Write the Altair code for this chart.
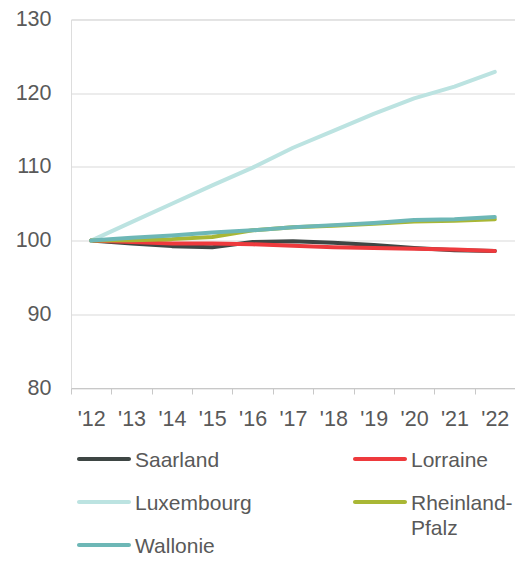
import altair as alt
import pandas as pd

years = ["'12", "'13", "'14", "'15", "'16", "'17", "'18", "'19", "'20", "'21", "'22"]
series = ["Saarland", "Lorraine", "Luxembourg", "Rheinland-Pfalz", "Wallonie"]
legend_labels = ["Saarland", "Lorraine", "Luxembourg", "Rheinland-\nPfalz", "Wallonie"]

saarland = [100, 99.6, 99.25, 99.1, 99.8, 99.9, 99.7, 99.4, 99.0, 98.7, 98.6]
lorraine = [100, 99.8, 99.6, 99.6, 99.5, 99.3, 99.1, 99.0, 98.9, 98.8, 98.6]
luxembourg = [100, 102.5, 105.0, 107.5, 109.9, 112.6, 114.9, 117.2, 119.3, 120.9, 122.9]
rheinland_pfalz = [100, 100.05, 100.2, 100.5, 101.4, 101.8, 102.0, 102.3, 102.6, 102.7, 102.9]
wallonie = [100, 100.4, 100.7, 101.1, 101.4, 101.8, 102.1, 102.4, 102.8, 102.9, 103.2]

colors = ["#3E4644", "#EE3A3D", "#BCE3E1", "#A9B735", "#6DB7B6"]
y_ticks = [80, 90, 100, 110, 120, 130]

values = [saarland, lorraine, luxembourg, rheinland_pfalz, wallonie]
rows = []
for s, vals in zip(series, values):
    for yr, v in zip(years, vals):
        rows.append({"year": yr, "value": v, "series": s})
df = pd.DataFrame(rows)

leg_df = pd.DataFrame({
    "series": series,
    "label": legend_labels,
    "col": [i % 2 for i in range(len(series))],
    "row": [i // 2 for i in range(len(series))],
})

FONT = "Liberation Sans"
TXT = "#595959"

color = alt.Color("series:N", scale=alt.Scale(domain=series, range=colors), legend=None)

base = alt.Chart(df).encode(
    x=alt.X("year:O", sort=years,
            scale=alt.Scale(type="band", paddingInner=0, paddingOuter=0),
            bandPosition=0.5,
            axis=alt.Axis(title=None, labelAngle=0, tickBand="extent", tickSize=6,
                          tickColor="#C8C8C8", domainColor="#C8C8C8", labelPadding=14,
                          labelFontSize=21.5, labelColor=TXT, labelFont=FONT, grid=False)),
    y=alt.Y("value:Q", scale=alt.Scale(domain=[80, 130], nice=False, zero=False),
            axis=alt.Axis(values=y_ticks, title=None, domain=False, ticks=False, tickSize=0,
                          labelPadding=20, grid=True, gridColor="#D9D9D9", gridWidth=1,
                          labelFontSize=21.5, labelColor=TXT, labelFont=FONT)),
    color=color,
)

lines = alt.layer(*[
    base.transform_filter(alt.datum.series == s).mark_line(
        strokeWidth=4, strokeCap="round", strokeJoin="round")
    for s in series
])

leg = alt.Chart(leg_df).encode(
    x=alt.X("col:Q", scale=alt.Scale(domain=[0, 1], range=[33, 309]), axis=None),
    y=alt.Y("row:Q", scale=alt.Scale(domain=[0, 2], range=[439.5, 525.5]), axis=None),
)
leg_sym = leg.mark_tick(orient="horizontal", size=54, thickness=4, cornerRadius=2,
                        opacity=1).encode(color=color)
leg_txt = leg.mark_text(align="left", baseline="top", dx=31, dy=-9, fontSize=21, lineHeight=24.5,
                        lineBreak="\n", color=TXT, font=FONT).encode(text="label:N")

chart = alt.layer(lines, leg_sym, leg_txt).resolve_scale(
    x="independent", y="independent"
).properties(
    width=444, height=368.5,
    autosize=alt.AutoSizeParams(type="none"),
    padding={"left": 63, "top": 11.5, "right": 0, "bottom": 169},
).configure_view(strokeWidth=0, stroke="transparent").configure(background="white")

chart.save("out.html", embed_options={"renderer": "svg", "actions": False})
